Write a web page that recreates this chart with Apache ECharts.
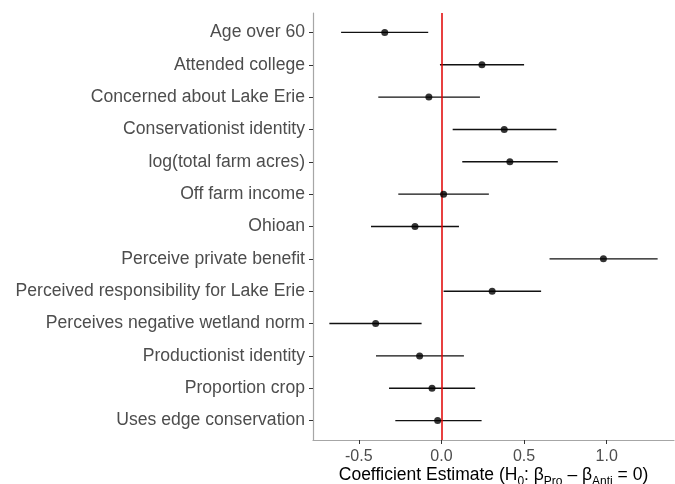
<!DOCTYPE html>
<html>
<head>
<meta charset="utf-8">
<script src="https://cdn.jsdelivr.net/npm/echarts@6/dist/echarts.min.js"></script>
<style>
  html, body { margin: 0; padding: 0; background: #fff; }
  #chart { width: 675px; height: 484px; }
</style>
</head>
<body>
<div id="chart"></div>
<script>
// Predictors, listed top to bottom
const categories = [
  'Age over 60',
  'Attended college',
  'Concerned about Lake Erie',
  'Conservationist identity',
  'log(total farm acres)',
  'Off farm income',
  'Ohioan',
  'Perceive private benefit',
  'Perceived responsibility for Lake Erie',
  'Perceives negative wetland norm',
  'Productionist identity',
  'Proportion crop',
  'Uses edge conservation'
];
// Point estimates and interval bounds
const estimates = [-0.343, 0.245, -0.076, 0.380, 0.414, 0.013, -0.160, 0.980, 0.307, -0.398, -0.132, -0.057, -0.023];
const lower     = [-0.607, -0.009, -0.382, 0.068, 0.126, -0.261, -0.426, 0.654, 0.013, -0.678, -0.396, -0.317, -0.279];
const upper     = [-0.080, 0.500, 0.233, 0.696, 0.704, 0.287, 0.106, 1.308, 0.603, -0.120, 0.136, 0.204, 0.243];
const xTicks = [-0.5, 0.0, 0.5, 1.0];

const rowIdx = categories.map((_, i) => i);
const pointData = estimates.map((v, i) => [v, i]);
const barData = lower.map((lo, i) => [lo, upper[i], i]);

const FONT = 'Liberation Sans, Arial, sans-serif';
const chart = echarts.init(document.getElementById('chart'), null, { renderer: 'canvas' });

chart.setOption({
  animation: false,
  backgroundColor: '#ffffff',
  grid: { left: 313, right: 1, top: 13, bottom: 44, containLabel: false, outerBoundsMode: 'none' },
  xAxis: {
    type: 'value',
    min: -0.777,
    max: 1.407,
    axisLine: { show: true, onZero: false, lineStyle: { color: '#a6a6a6', width: 1.2 } },
    axisTick: { show: true, length: 4, lineStyle: { color: '#333', width: 1 }, customValues: xTicks },
    axisLabel: {
      customValues: xTicks,
      color: '#4d4d4d', fontSize: 16, fontFamily: FONT, margin: 9,
      formatter: v => v.toFixed(1)
    },
    splitLine: { show: false },
    name: '{a|Coefficient Estimate (H}{s|0}{a|: β}{s|Pro}{a| – β}{s|Anti}{a| = 0)}',
    nameLocation: 'middle',
    nameGap: 24,
    nameMoveOverlap: false,
    nameTextStyle: {
      rich: {
        a: { fontSize: 17.5, color: '#000', fontFamily: FONT, lineHeight: 20, verticalAlign: 'bottom' },
        s: { fontSize: 12, color: '#000', fontFamily: FONT, lineHeight: 20, verticalAlign: 'bottom', padding: [0, 0, -4, 0] }
      }
    }
  },
  yAxis: {
    type: 'value',
    inverse: true,
    min: -0.6,
    max: 12.6,
    axisLine: { show: true, onZero: false, lineStyle: { color: '#a6a6a6', width: 1.2 } },
    axisTick: { show: true, length: 4, lineStyle: { color: '#333', width: 1 }, customValues: rowIdx },
    axisLabel: {
      customValues: rowIdx,
      color: '#4d4d4d', fontSize: 17.6, fontFamily: FONT, margin: 8,
      formatter: v => categories[Math.round(v)]
    },
    splitLine: { show: false }
  },
  series: [
    {
      type: 'custom',
      data: barData,
      encode: { x: [0, 1], y: 2 },
      renderItem: (params, api) => {
        const a = api.coord([api.value(0), api.value(2)]);
        const b = api.coord([api.value(1), api.value(2)]);
        return {
          type: 'line',
          shape: { x1: a[0], y1: a[1], x2: b[0], y2: b[1] },
          style: { stroke: '#111', lineWidth: 1.4 }
        };
      },
      z: 2
    },
    {
      type: 'scatter',
      data: pointData,
      symbol: 'circle',
      symbolSize: 7,
      itemStyle: { color: '#000' },
      z: 4,
      markLine: {
        silent: true,
        symbol: ['none', 'none'],
        label: { show: false },
        lineStyle: { color: '#e00000', width: 1.5, type: 'solid' },
        data: [{ xAxis: 0 }],
        z: 3
      }
    }
  ]
});
</script>
</body>
</html>
